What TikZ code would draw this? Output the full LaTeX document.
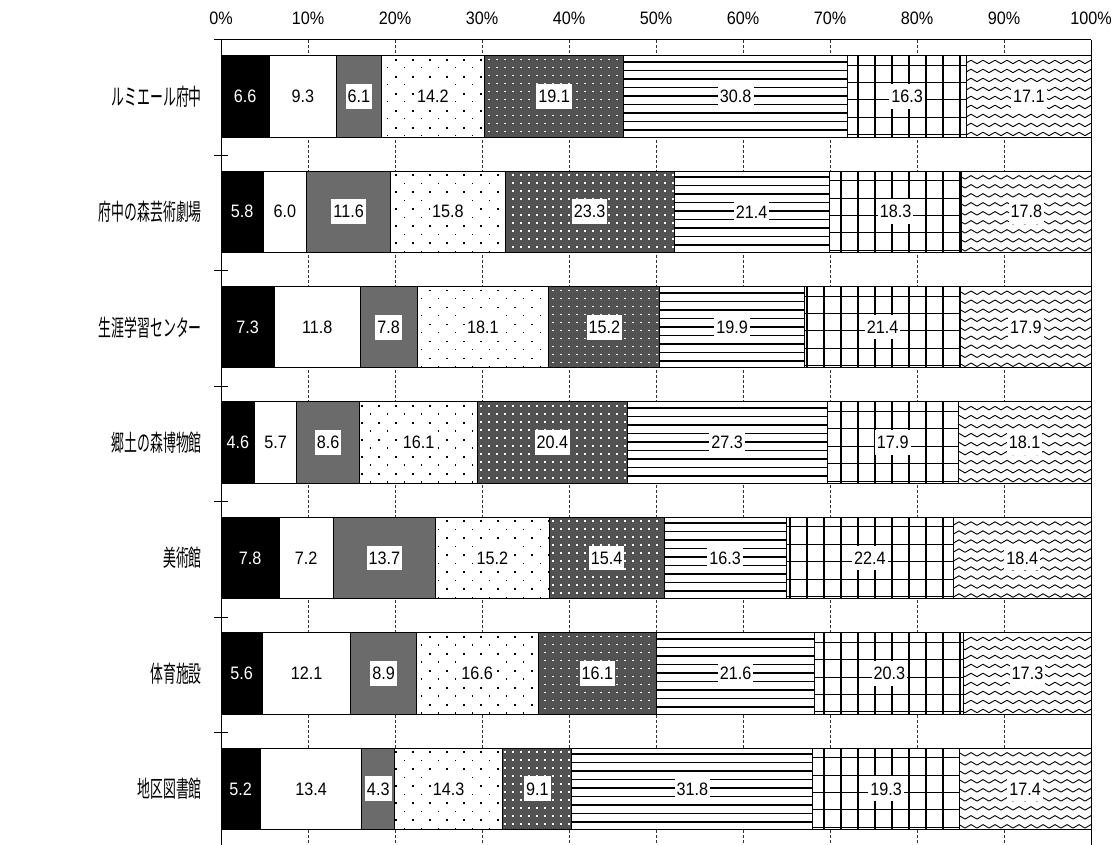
\documentclass[tikz,border=0pt]{standalone}
\usepackage{fontspec}
\setmainfont{Liberation Sans}[FakeStretch=0.9]
\newfontfamily\cjk{Noto Sans CJK JP}[FakeStretch=0.78]

\newcommand\numfont{\fontsize{18}{21}\selectfont}
\newcommand\catfont{\fontsize{16.5}{19}\selectfont\cjk}

\tikzset{
  seg/.code={\ifcase#1\or
      \pgfkeysalso{fill=black}\or
      \pgfkeysalso{fill=white}\or
      \pgfkeysalso{fill=black!58}\or
      \pgfkeysalso{fill=white}\or
      \pgfkeysalso{fill=black!68}\or
      \pgfkeysalso{fill=white}\or
      \pgfkeysalso{fill=white}\or
      \pgfkeysalso{fill=white}\fi},
  segborder/.style={draw=black, line width=1pt},
  lab/.code={\ifnum#1=1 \pgfkeysalso{text=white}\else\ifnum#1>2 \pgfkeysalso{fill=white}\fi\fi},
  labbase/.style={font=\numfont, text=black, inner xsep=2pt, inner ysep=6pt},
  catlab/.style={font=\catfont, anchor=east, inner sep=0pt},
  ticklab/.style={font=\numfont, inner sep=0pt},
  grid dash/.style={draw=black!80, line width=0.8pt, dash pattern=on 3pt off 2pt},
  axisline/.style={draw=black, line width=1pt},
  texline/.style={draw=black},
}

% texture of series #1 inside box \xa..\xb, \yt..\yb
\newcommand\texture[1]{%
  \begin{scope}
  \clip (\xa,\yt) rectangle (\xb,\yb);
  \ifcase#1\or\or\or
  \or % 4: sparse dots
    \pgfmathtruncatemacro\ka{(\xa-221)/17-1}%
    \pgfmathtruncatemacro\kb{(\xb-221)/17+1}%
    \foreach \r in {0,...,9}{%
      \foreach \k in {\ka,...,\kb}{%
        \pgfmathsetmacro\px{221+17*\k+mod(\r,2)*8.5+4}%
        \pgfmathsetmacro\ds{ifthenelse(mod(\r,2)==0,1.9,1.3)}%
        \fill (\px,\yt+3+8.5*\r) rectangle ++(\ds,\ds);
      }}%
  \or % 5: white dots
    \pgfmathtruncatemacro\ka{(\xa-221)/8-1}%
    \pgfmathtruncatemacro\kb{(\xb-221)/8+1}%
    \foreach \r in {0,...,10}{%
      \foreach \k in {\ka,...,\kb}{%
        \fill[white] (221+8*\k+3,\yt+3+8*\r) rectangle ++(1.7,1.7);
      }}%
  \or % 6: horizontal lines
    \foreach \r in {0,...,8}{%
      \pgfmathsetmacro\lw{ifthenelse(mod(\r,2)==0,2,1)}%
      \draw[texline, line width=\lw pt] (\xa,\yt+6+8.5*\r) -- (\xb,\yt+6+8.5*\r);
    }%
  \or % 7: grid
    \pgfmathtruncatemacro\ka{(\xa-221)/17-1}%
    \pgfmathtruncatemacro\kb{(\xb-221)/17+1}%
    \foreach \k in {\ka,...,\kb}{%
      \draw[texline, line width=2pt] (221+17*\k+8,\yt) -- (221+17*\k+8,\yb);
    }%
    \foreach \r in {0,...,4}{%
      \draw[texline, line width=1pt] (\xa,\yt+9.5+17.4*\r) -- (\xb,\yt+9.5+17.4*\r);
    }%
  \or % 8: waves
    \pgfmathtruncatemacro\ka{(\xa-221)/12-1}%
    \pgfmathtruncatemacro\nn{(\xb-\xa)/12+3}%
    \foreach \r in {0,...,8}{%
      \draw[texline, line width=0.9pt, line join=round]
        (221+12*\ka,\yt+8+9*\r) foreach \j in {1,...,\nn} { -- ++(6,-3.5) -- ++(6,3.5) };
    }%
  \fi
  \end{scope}%
}

\newcommand\drawrow[3]{%
  \pgfmathsetmacro\yc{96.4+#1*115.4}%
  \pgfmathsetmacro\yt{\yc-40.7}%
  \pgfmathsetmacro\yb{\yc+40.7}%
  \node[catlab] (c#1) at (202,\yc) {\scalebox{1}[1.4]{#2}};
  \gdef\rowsum{0}%
  \foreach \v in #3 {\pgfmathsetmacro\tmpa{\rowsum+\v}\xdef\rowsum{\tmpa}}%
  \gdef\cum{0}%
  \foreach \v [count=\i] in #3 {%
    \pgfmathsetmacro\xa{221+\cum/\rowsum*870}%
    \pgfmathsetmacro\tmpa{\cum+\v}\xdef\cum{\tmpa}%
    \pgfmathsetmacro\xb{221+\cum/\rowsum*870}%
    \path[seg=\i] (\xa,\yt) rectangle (\xb,\yb);
    \texture{\i}%
    \draw[segborder] (\xa,\yt) rectangle (\xb,\yb);
  }%
}
\newcommand\labelrow[2]{%
  \pgfmathsetmacro\yc{96.4+#1*115.4}%
  \gdef\rowsum{0}%
  \foreach \v in #2 {\pgfmathsetmacro\tmpa{\rowsum+\v}\xdef\rowsum{\tmpa}}%
  \gdef\cum{0}%
  \foreach \v [count=\i] in #2 {%
    \pgfmathsetmacro\xa{221+\cum/\rowsum*870}%
    \pgfmathsetmacro\tmpa{\cum+\v}\xdef\cum{\tmpa}%
    \pgfmathsetmacro\xb{221+\cum/\rowsum*870}%
    \pgfmathsetmacro\xm{(\xa+\xb)/2}%
    \node[labbase, lab=\i] (v#1-\i) at (\xm,\yc) {\v};
  }%
}

\def\rowA{6.6,9.3,6.1,14.2,19.1,30.8,16.3,17.1}
\def\rowB{5.8,6.0,11.6,15.8,23.3,21.4,18.3,17.8}
\def\rowC{7.3,11.8,7.8,18.1,15.2,19.9,21.4,17.9}
\def\rowD{4.6,5.7,8.6,16.1,20.4,27.3,17.9,18.1}
\def\rowE{7.8,7.2,13.7,15.2,15.4,16.3,22.4,18.4}
\def\rowF{5.6,12.1,8.9,16.6,16.1,21.6,20.3,17.3}
\def\rowG{5.2,13.4,4.3,14.3,9.1,31.8,19.3,17.4}

\begin{document}
\begin{tikzpicture}[x=1pt,y=-1pt]
\useasboundingbox (0,0) rectangle (1118,845);
\fill[white] (0,0) rectangle (1118,845);
% gridlines
\foreach \k in {1,...,9}{
  \draw[grid dash] (221+87*\k,40) -- (221+87*\k,848);
}
% tick labels
\foreach \k in {0,...,10}{
  \pgfmathtruncatemacro\pc{10*\k}
  \node[ticklab] (t\k) at (221+87*\k,18) {\pc\%};
}
% bars
\drawrow{0}{ルミエール府中}{\rowA}
\drawrow{1}{府中の森芸術劇場}{\rowB}
\drawrow{2}{生涯学習センター}{\rowC}
\drawrow{3}{郷土の森博物館}{\rowD}
\drawrow{4}{美術館}{\rowE}
\drawrow{5}{体育施設}{\rowF}
\drawrow{6}{地区図書館}{\rowG}
% frame
\draw[axisline] (214,40) -- (1091,40);
\draw[axisline] (221,40) -- (221,850);
\draw[axisline] (1091,40) -- (1091,850);
\foreach \k in {1,...,7}{
  \draw[axisline] (214,40+115.4*\k) -- (228,40+115.4*\k);
}
% value labels
\labelrow{0}{\rowA}
\labelrow{1}{\rowB}
\labelrow{2}{\rowC}
\labelrow{3}{\rowD}
\labelrow{4}{\rowE}
\labelrow{5}{\rowF}
\labelrow{6}{\rowG}
\end{tikzpicture}
\end{document}
